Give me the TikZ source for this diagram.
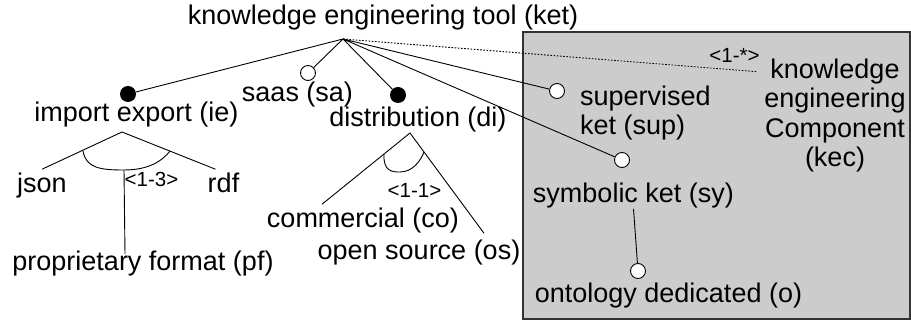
\documentclass[tikz,border=0pt]{standalone}
\usepackage{fontspec}
\setmainfont{Liberation Sans}
\usetikzlibrary{calc}

\begin{document}
\begin{tikzpicture}[x=1pt,y=-1pt,
		feat/.style={inner sep=0pt,anchor=base,font=\fontsize{27}{29.5}\selectfont},
		card/.style={inner sep=0pt,anchor=base,font=\fontsize{20.5}{22}\selectfont},
		mand/.style={circle,fill=black,minimum size=16pt,inner sep=0pt},
		opt/.style={circle,draw=black,fill=white,minimum size=15pt,inner sep=0pt,line width=0.9pt},
		link/.style={line width=0.9pt}]
			\useasboundingbox (0,0) rectangle (911,320);
			\filldraw[fill=black!20,draw=black!80,line width=1.3pt] (523,32) rectangle (910,319);
			\node[feat] (ket) at (383,25) {knowledge engineering tool (ket)};
			\node[feat] (ie) at (136.5,122) {import export (ie)};
			\node[feat] (sa) at (297.5,102) {saas (sa)};
			\node[feat] (di) at (418,127) {distribution (di)};
			\node[feat] (json) at (42,193) {json};
			\node[feat] (rdf) at (223.5,193) {rdf};
			\node[feat] (pf) at (143,271) {proprietary format (pf)};
			\node[feat] (co) at (363,228) {commercial (co)};
			\node[feat] (os) at (419,260) {open source (os)};
			\node[feat,anchor=north west,align=left] (sup) at (580,85.7) {supervised\\ket (sup)};
			\node[feat] (sy) at (633.5,203) {symbolic ket (sy)};
			\node[feat] (o) at (668.5,303) {ontology dedicated (o)};
			\node[feat,anchor=north,align=center] (kec) at (835,58.7) {knowledge\\engineering\\Component\\(kec)};
			\node[card] (c13) at (151.5,187) {<1-3>};
			\node[card] (c11) at (414.5,198) {<1-1>};
			\node[card] (c1n) at (734.5,63) {<1-*>};
			\node[mand] (iedot) at (128,94) {};
			\node[opt] (sadot) at (308,73) {};
			\node[mand] (didot) at (398,95) {};
			\node[opt] (supdot) at (557,91) {};
			\node[opt] (sydot) at (622,160) {};
			\node[opt] (odot) at (638,271) {};
			\coordinate (top) at (343,39);
			\coordinate (iejoin) at (122,132);
			\coordinate (iebot) at (124,170);
			\coordinate (dijoin) at (410,133);
			\draw[link] (iedot)--(top)--(sadot) (top)--(didot) (top)--(supdot) (top)--(sydot);
			\draw[link,dash pattern=on 1.6pt off 1.6pt] (top)--($(kec.north west)+(-7,13)$);
			\draw[link] ($(json.north)+(0,-4)$)--(iejoin)--($(rdf.north)+(-8,-4)$);
			\draw[link] (83,151) .. controls (86,168) and (100,170) .. (iebot) .. controls (150,170) and (163,160) .. (170,151);
			\draw[link] (iebot)--($(pf.north)+(-18,3)$);
			\draw[link] ($(co.north)+(-41,-4)$)--(dijoin)--($(os.north)+(65,-7)$);
			\draw[link] (384,154) .. controls (383,172) and (393,172) .. (400,172) .. controls (412,172) and (420,162) .. (424,152);
			\draw[link] (sy.south)--(odot);
		\end{tikzpicture}
\end{document}
